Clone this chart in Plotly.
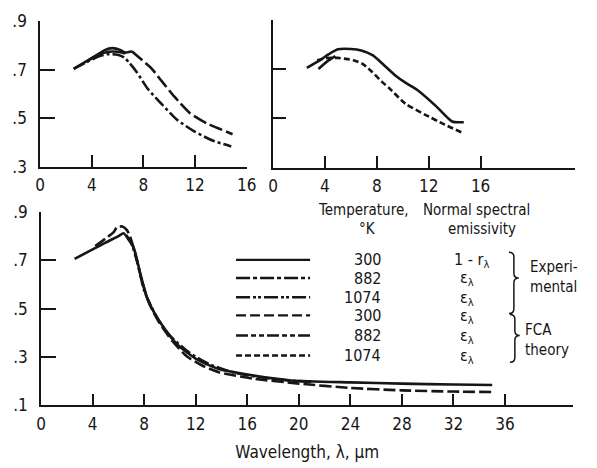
import plotly.graph_objects as go

W, H = 597, 468
INK = "#161616"
FONT = "DejaVu Sans Condensed, Liberation Sans Narrow, Liberation Sans, sans-serif"

# ---------------- data ----------------
# top-left panel
tl_exp_x = [2.6, 3.5, 4.5, 5.0, 5.6, 6.2, 6.6, 7.1]
tl_exp_y = [0.705, 0.733, 0.765, 0.782, 0.790, 0.783, 0.772, 0.777]
tl_mid_x = [3.8, 4.5, 5.3, 6.0, 6.6]
tl_mid_y = [0.742, 0.762, 0.775, 0.775, 0.768]
tl_up_x = [7.1, 7.8, 8.6, 9.4, 10.4, 11.6, 12.9, 14.0, 14.9]
tl_up_y = [0.777, 0.745, 0.708, 0.655, 0.590, 0.522, 0.480, 0.455, 0.435]
tl_lo_x = [2.6, 3.5, 4.5, 5.2, 6.0, 6.5, 6.9, 7.5, 8.3, 9.4, 10.6, 11.9, 13.4, 14.8]
tl_lo_y = [0.705, 0.730, 0.755, 0.765, 0.763, 0.752, 0.730, 0.690, 0.625, 0.560, 0.495, 0.448, 0.408, 0.385]

# top-right panel
tr_up_x = [2.6, 3.6, 4.3, 5.0, 6.0, 6.8, 7.7, 8.5, 9.4, 10.2, 11.1, 12.6, 13.8, 14.7]
tr_up_y = [0.705, 0.735, 0.760, 0.780, 0.781, 0.775, 0.755, 0.718, 0.675, 0.645, 0.616, 0.548, 0.488, 0.485]
tr_fork_x = [3.5, 4.1, 4.8]
tr_fork_y = [0.700, 0.728, 0.752]
tr_lo_x = [3.4, 4.1, 5.0, 5.6, 6.2, 6.9, 7.6, 8.4, 9.0, 10.2, 11.7, 13.2, 14.7]
tr_lo_y = [0.735, 0.744, 0.745, 0.741, 0.735, 0.721, 0.690, 0.648, 0.620, 0.560, 0.516, 0.476, 0.440]

# bottom panel
b_exp_x = [2.6, 4.0, 5.0, 6.0, 6.4, 6.8, 7.2, 7.7, 8.2, 8.8, 9.6, 10.6, 12.1, 13.8, 16.4, 19.4, 24, 28, 32, 35]
b_exp_y = [0.706, 0.745, 0.773, 0.800, 0.812, 0.785, 0.750, 0.645, 0.548, 0.481, 0.416, 0.350, 0.290, 0.250, 0.224, 0.203, 0.195, 0.190, 0.186, 0.184]
b_th_x = [4.2, 5.0, 5.65, 5.9, 6.3, 6.66, 6.9, 7.3, 7.8, 8.4, 9.2, 10.2, 11.3, 12.5, 13.8, 16.4, 20, 24, 28, 32, 35]
b_th_y = [0.759, 0.790, 0.818, 0.838, 0.840, 0.825, 0.798, 0.730, 0.620, 0.520, 0.440, 0.365, 0.303, 0.265, 0.237, 0.211, 0.190, 0.172, 0.162, 0.157, 0.155]
b_mid_x = [6.6, 7.0, 7.5, 8.0, 9.0, 10.0, 11.5, 13.0, 15.0, 17.0, 19.0, 21.0]
b_mid_y = [0.805, 0.772, 0.685, 0.575, 0.462, 0.388, 0.318, 0.272, 0.235, 0.216, 0.204, 0.197]

# legend
leg_temps = ["300", "882", "1074", "300", "882", "1074"]
leg_emis = ["1 - r<sub>λ</sub>", "ε<sub>λ</sub>", "ε<sub>λ</sub>", "ε<sub>λ</sub>", "ε<sub>λ</sub>", "ε<sub>λ</sub>"]
leg_dash = ["solid", "14px,3px,4px,3px", "14px,3px,3px,2px,3px,3px",
            "10px,4px", "12px,3px,5px,3px,5px,3px", "6px,3px"]

top_xticks = [0, 4, 8, 12, 16]
top_yticks = [0.3, 0.5, 0.7, 0.9]
bot_xticks = [0, 4, 8, 12, 16, 20, 24, 28, 32, 36]
bot_yticks = [0.1, 0.3, 0.5, 0.7, 0.9]


def ytxt(v):
    return "." + str(int(round(v * 10)))


def px(x):
    return x / W


def py(y):
    return 1 - y / H


fig = go.Figure()


def line(x, y, dash, ax, width=2.6):
    fig.add_trace(go.Scatter(x=x, y=y, mode="lines", xaxis="x" + ax, yaxis="y" + ax,
                             line=dict(color=INK, width=width, dash=dash, shape="spline", smoothing=0.6),
                             showlegend=False, hoverinfo="skip"))


line(tl_exp_x, tl_exp_y, "solid", "")
line(tl_mid_x, tl_mid_y, "solid", "")
line(tl_up_x, tl_up_y, "14px,4px", "")
line(tl_lo_x, tl_lo_y, "12px,3px,3px,3px", "")

line(tr_up_x, tr_up_y, "solid", "2")
line(tr_fork_x, tr_fork_y, "solid", "2")
line(tr_lo_x, tr_lo_y, "6px,3px", "2")

line(b_exp_x, b_exp_y, "solid", "3")
line(b_mid_x, b_mid_y, "12px,3px,3px,3px", "3")
line(b_th_x, b_th_y, "12px,4px", "3")

axis_common = dict(showline=True, linecolor=INK, linewidth=1.6, ticks="inside",
                   tickcolor=INK, showgrid=False, zeroline=False,
                   tickfont=dict(family=FONT, size=17, color=INK))

fig.update_layout(
    width=W, height=H, margin=dict(l=0, r=0, t=0, b=0),
    paper_bgcolor="white", plot_bgcolor="white",
    xaxis=dict(axis_common, domain=[px(36), px(248)], range=[0, 16], anchor="y",
               tickvals=top_xticks, ticklen=12, tickwidth=2, ticklabelstandoff=2),
    yaxis=dict(axis_common, domain=[py(164), py(12)], range=[0.3, 0.9], anchor="x",
               tickvals=top_yticks, ticktext=[ytxt(v) for v in top_yticks],
               ticklen=15, tickwidth=1.6, ticklabelstandoff=8),
    xaxis2=dict(axis_common, domain=[px(275), px(585)], range=[0, 23.3], anchor="y2",
                tickvals=top_xticks, ticklen=12, tickwidth=2, ticklabelstandoff=2),
    yaxis2=dict(axis_common, domain=[py(165), py(10)], range=[0.3, 0.9], anchor="x2",
                tickvals=top_yticks, showticklabels=False, ticklen=13, tickwidth=1.6),
    xaxis3=dict(axis_common, domain=[px(37), px(583)], range=[0, 41.3], anchor="y3",
                tickvals=bot_xticks, ticklen=12, tickwidth=2, ticklabelstandoff=2,
                title=dict(text="Wavelength, λ, μm", font=dict(family=FONT, size=17, color=INK),
                           standoff=14)),
    yaxis3=dict(axis_common, domain=[py(413), py(211)], range=[0.1, 0.9], anchor="x3",
                tickvals=bot_yticks, ticktext=[ytxt(v) for v in bot_yticks],
                ticklen=15, tickwidth=1.6, ticklabelstandoff=8),
)

# legend
rows = [261, 280, 300, 319, 340, 361]
shapes = []
ann = []
for r, d, t, e in zip(rows, leg_dash, leg_temps, leg_emis):
    shapes.append(dict(type="line", xref="paper", yref="paper", x0=px(237), x1=px(313),
                       y0=py(r), y1=py(r), line=dict(color=INK, width=2.4, dash=d)))
    ann.append(dict(x=px(388), y=py(r), xref="paper", yref="paper", text=t, showarrow=False,
                    xanchor="right", yanchor="middle", font=dict(family=FONT, size=16, color=INK)))
    is_one = e.startswith("1")
    ann.append(dict(x=px(459 if is_one else 465), y=py(r + 1), xref="paper", yref="paper",
                    text=e, showarrow=False, xanchor="left", yanchor="middle",
                    font=dict(family=FONT, size=16, color=INK)))

hdr = [("Temperature,", 367, "center", 209), ("°K", 372, "center", 229),
       ("Normal spectral", 484, "center", 209), ("emissivity", 489, "center", 229),
       ("Experi-", 536, "left", 268), ("mental", 536, "left", 289),
       ("FCA", 531, "left", 334), ("theory", 531, "left", 355)]
for text, x, anc, y in hdr:
    ann.append(dict(x=px(x), y=py(y), xref="paper", yref="paper", text=text, showarrow=False,
                    xanchor=anc, yanchor="middle", font=dict(family=FONT, size=15, color=INK)))


def brace(x0, top, tip, bot, w=10):
    xm = x0 + w / 2
    xe = x0 + w
    r = 5
    pts = (f"M {px(x0)},{py(top)} Q {px(xm)},{py(top)} {px(xm)},{py(top + r)} "
           f"L {px(xm)},{py(tip - r)} Q {px(xm)},{py(tip)} {px(xe)},{py(tip)} "
           f"Q {px(xm)},{py(tip)} {px(xm)},{py(tip + r)} "
           f"L {px(xm)},{py(bot - r)} Q {px(xm)},{py(bot)} {px(x0)},{py(bot)}")
    return dict(type="path", xref="paper", yref="paper", path=pts, line=dict(color=INK, width=1.5))


shapes.append(brace(517, 253, 280, 317))
shapes.append(brace(518, 318, 340, 368))

fig.update_layout(shapes=shapes, annotations=ann)
fig.write_html("out.html")
